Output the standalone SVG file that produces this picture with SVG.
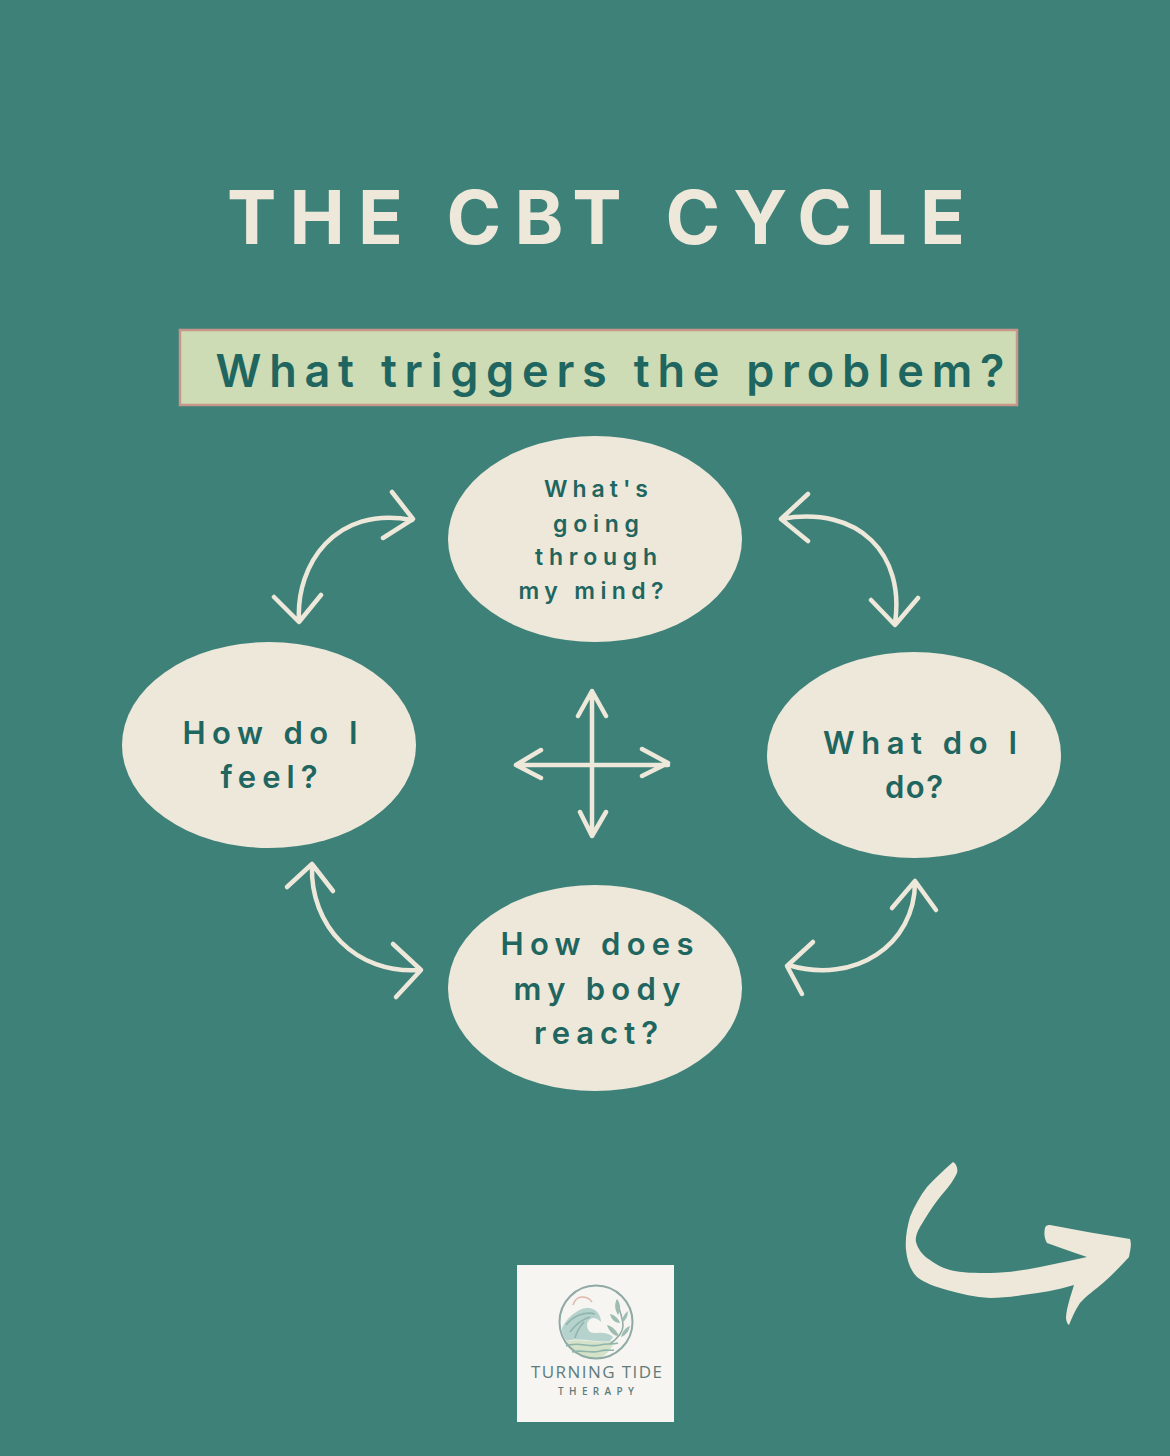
<svg xmlns="http://www.w3.org/2000/svg" width="1170" height="1456" viewBox="0 0 1170 1456">
<style>
.t{font-family:"Inter","Liberation Sans",sans-serif;font-weight:600;fill:#1f6660;text-anchor:middle}
.n{fill:#ede8d9}
.c{fill:none;stroke:#ede8d9;stroke-width:4.5;stroke-linecap:round;stroke-linejoin:round}
.w{fill:none;stroke:#8fb5ac;stroke-width:1.6}
</style>
<rect width="1170" height="1456" fill="#3e8179"/>
<g id="title"><text x="596" y="244" font-family="Inter,'Liberation Sans',sans-serif" font-weight="700" font-size="74" textLength="738" lengthAdjust="spacing" fill="#ede8d9" text-anchor="middle">THE CBT CYCLE</text></g>
<g id="trigger">
<rect x="180" y="330" width="837" height="75" fill="#cddcb4" stroke="#c9968a" stroke-width="2.5"/>
<text class="t" x="610" y="387" font-size="45" textLength="789" lengthAdjust="spacing">What triggers the problem?</text>
</g>
<g id="node-mind">
<ellipse class="n" cx="595" cy="539" rx="147" ry="103"/>
<text class="t" font-size="23"><tspan x="596" y="497" textLength="104">What's</tspan><tspan x="596" y="532" textLength="86">going</tspan><tspan x="596" y="565" textLength="122">through</tspan><tspan x="591" y="599" textLength="145">my mind?</tspan></text>
</g>
<g id="node-feel">
<ellipse class="n" cx="269" cy="745" rx="147" ry="103"/>
<text class="t" font-size="31"><tspan x="270" y="744" textLength="175">How do I</tspan><tspan x="269" y="788" textLength="97">feel?</tspan></text>
</g>
<g id="node-do">
<ellipse class="n" cx="914" cy="755" rx="147" ry="103"/>
<text class="t" font-size="31"><tspan x="920" y="754" textLength="194">What do I</tspan><tspan x="914" y="798" textLength="58">do?</tspan></text>
</g>
<g id="node-body">
<ellipse class="n" cx="595" cy="988" rx="147" ry="103"/>
<text class="t" font-size="31"><tspan x="597" y="955" textLength="193">How does</tspan><tspan x="597" y="1000" textLength="167">my body</tspan><tspan x="596" y="1044" textLength="124">react?</tspan></text>
</g>
<g id="connectors">
<path class="c" d="M299 620C296 565 335 505 412 520M392 492L413 519L383 538M274 597L299 622L321 595"/>
<path class="c" d="M781 519C860 505 905 555 895 623M808 494L781 519L808 541M871 600L895 625L918 598"/>
<path class="c" d="M312 866C310 925 355 975 421 970M287 887L312 864L333 891M393 944L421 970L396 997"/>
<path class="c" d="M788 965C855 985 915 945 915 882M813 942L787 966L802 994M892 908L915 881L936 910"/>
<path class="c" d="M592 692V836M578 716L592 691L606 716M580 812L592 836L606 812M516 765H668M541 750L516 765L541 778M642 749L668 763L642 776"/>
</g>
<g id="next-arrow"><path class="n" d="M953 1162C957 1164 958 1170 957 1173C953 1182 946 1190 940 1197C932 1207 926 1217 920 1227C917 1232 915 1238 916 1242C918 1249 922 1254 927 1258C934 1263 942 1268 950 1270C962 1273 976 1273 990 1273C1007 1273 1024 1270 1040 1267C1056 1264 1072 1260 1087 1257C1073 1252 1060 1248 1047 1243C1044 1238 1044 1232 1045 1228C1046 1225 1048 1225 1050 1225C1077 1230 1104 1235 1130 1239C1132 1245 1130 1251 1129 1257C1121 1266 1112 1275 1103 1283C1095 1290 1087 1295 1080 1303C1075 1310 1072 1318 1069 1325C1067 1324 1066 1320 1066 1317C1067 1306 1071 1295 1074 1285C1057 1290 1040 1293 1023 1295C1012 1297 1001 1298 990 1298C975 1297 961 1294 947 1290C936 1287 925 1283 917 1277C910 1270 907 1260 906 1250C905 1239 907 1228 910 1217C914 1207 920 1196 927 1187C935 1178 944 1170 953 1162Z"/></g>
<g id="logo">
<rect x="517" y="1265" width="157" height="157" fill="#f6f5f2"/>
<path d="M565 1342C580 1337 600 1345 615 1340C611 1351 604 1358 596 1358C581 1358 571 1351 565 1342Z" fill="#d3e2c8"/>
<path d="M562 1328C565 1322 568 1318 572 1315C577 1311 582 1308 587 1308C592 1308 596 1310 598 1313C600 1316 601 1319 601 1322C598 1319 596 1318 593 1318C589 1319 587 1322 587 1325C587 1329 589 1331 590 1332C595 1334 600 1332 603 1333C607 1333 611 1335 613 1337L610 1341C596 1343 580 1337 567 1341C563 1337 562 1332 562 1328Z" fill="#b5d2cc"/>
<circle cx="596" cy="1322" r="36.500" fill="none" stroke="#8fa9a5" stroke-width="2"/>
<path d="M573 1305C575 1299 578 1297 582 1297C586 1297 590 1299 592 1302" fill="none" stroke="#e0b7ad" stroke-width="1.500"/>
<path class="w" d="M566 1325C573 1316 585 1311 595 1314M570 1332C576 1324 583 1319 590 1317M575 1338C577 1331 580 1326 584 1322M566 1346C578 1341 588 1348 600 1345C606 1343 612 1345 618 1343M572 1352C582 1349 590 1354 600 1351C606 1349 610 1351 614 1350"/>
<path d="M610 1344C618 1338 623 1332 623 1326C623 1318 619 1310 617 1300" fill="none" stroke="#8fa9a5" stroke-width="1.500"/>
<path d="M617 1299C621 1304 621 1310 618 1315C615 1310 614 1304 617 1299ZM610 1314C615 1315 619 1319 620 1323C615 1323 611 1319 610 1314ZM628 1311C628 1316 626 1320 622 1323C622 1318 624 1314 628 1311ZM607 1325C612 1326 617 1331 619 1336C613 1336 609 1331 607 1325ZM630 1326C629 1331 626 1335 621 1337C622 1332 625 1328 630 1326Z" fill="#9dbcb2"/>
<text x="596.500" y="1378" font-family="'Open Sans','Liberation Sans',sans-serif" font-size="17" textLength="131" lengthAdjust="spacing" fill="#5f7c7b" text-anchor="middle">TURNING TIDE</text>
<text x="596" y="1395" font-family="'Open Sans','Liberation Sans',sans-serif" font-size="10" font-weight="600" textLength="76" lengthAdjust="spacing" fill="#5f7c7b" text-anchor="middle">THERAPY</text>
</g>
</svg>
